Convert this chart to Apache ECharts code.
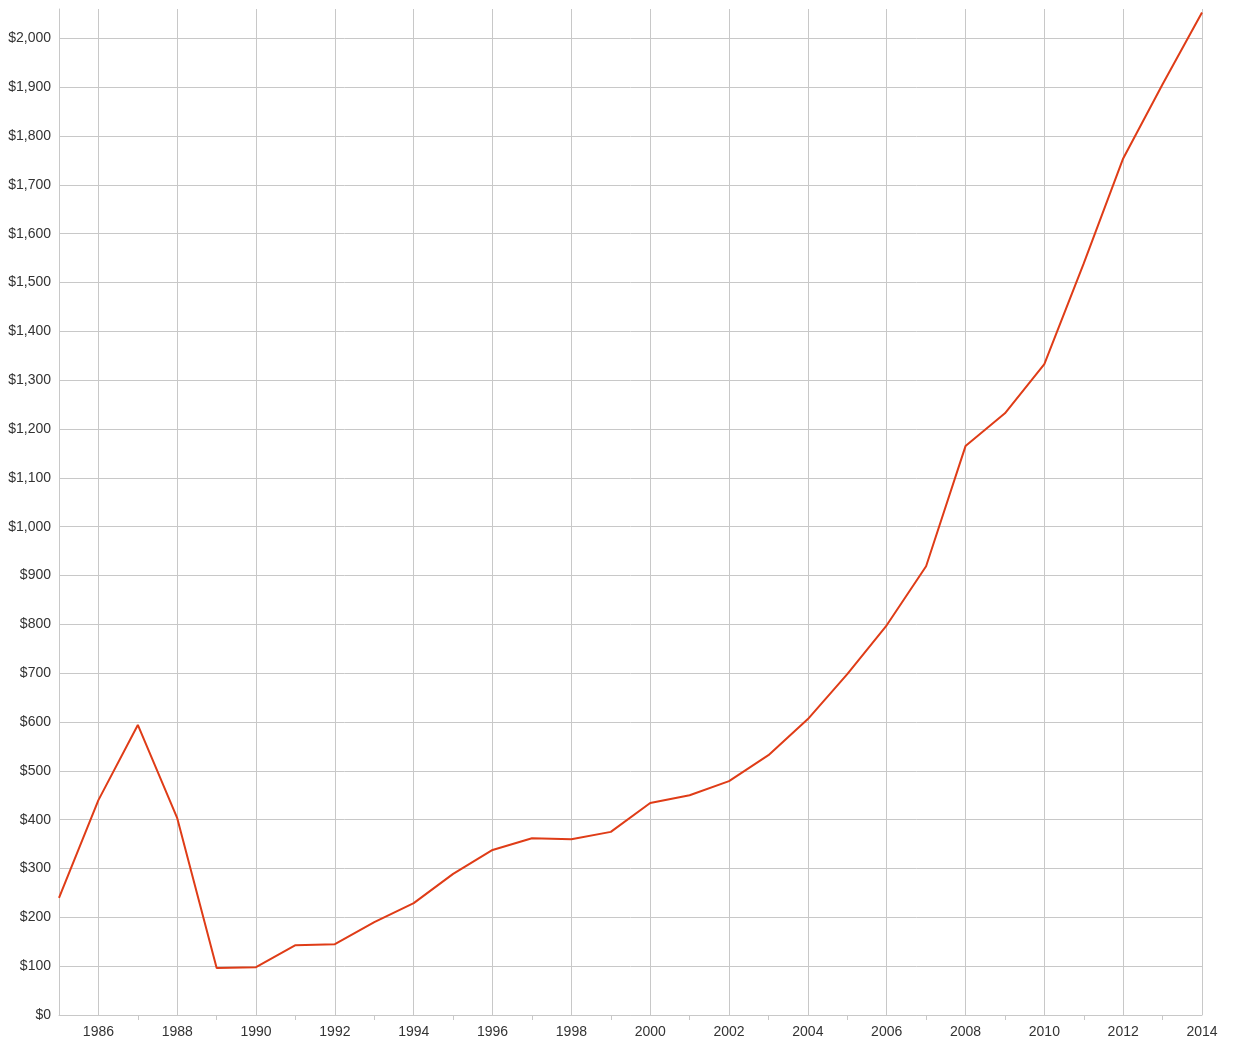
<!DOCTYPE html>
<html>
<head>
<meta charset="utf-8">
<script src="https://cdn.jsdelivr.net/npm/echarts@6/dist/echarts.min.js"></script>
<style>
html,body{margin:0;padding:0;background:#fff;}
#chart{width:1249px;height:1044px;}
</style>
</head>
<body>
<div id="chart"></div>
<script>
var years = [1985,1986,1987,1988,1989,1990,1991,1992,1993,1994,1995,1996,1997,1998,1999,
             2000,2001,2002,2003,2004,2005,2006,2007,2008,2009,2010,2011,2012,2013,2014];
var values = [240,440,594,403,96,98,143,145,190,229,289,338,362,360,375,
              434,450,479,532,606,698,798,919,1165,1232,1333,1539,1754,1906,2053];

var chart = echarts.init(document.getElementById('chart'), null, {renderer:'canvas'});
var font = 'Liberation Sans, Arial, Helvetica, sans-serif';
chart.setOption({
  animation: false,
  grid: {left: 59, right: 47, top: 9, bottom: 29, containLabel: false},
  xAxis: {
    type: 'category',
    data: years.map(String),
    boundaryGap: false,
    axisLine: {show: true, lineStyle: {color: '#c8c8c8', width: 1}},
    axisTick: {show: true, length: 5, lineStyle: {color: '#c8c8c8'},
      interval: function (i) { return i % 2 === 0 && i > 0; }},
    axisLabel: {color: '#333', fontFamily: font, fontSize: 14, margin: 10,
      interval: function (i) { return i % 2 === 1; }},
    splitLine: {show: true, lineStyle: {color: '#c8c8c8', width: 1},
      interval: function (i) { return i % 2 === 1; }}
  },
  yAxis: {
    type: 'value',
    min: 0, max: 2060, interval: 100,
    axisLine: {show: true, lineStyle: {color: '#c8c8c8', width: 1}},
    axisTick: {show: false},
    axisLabel: {color: '#333', fontFamily: font, fontSize: 14, margin: 8, showMaxLabel: false,
      formatter: function (v) { return '$' + v.toLocaleString('en-US'); }},
    splitLine: {show: true, showMaxLine: false, lineStyle: {color: '#c8c8c8', width: 1}}
  },
  series: [{
    type: 'line',
    data: values,
    symbol: 'none',
    lineStyle: {color: '#df3c17', width: 2},
    itemStyle: {color: '#df3c17'}
  }]
});
</script>
</body>
</html>
